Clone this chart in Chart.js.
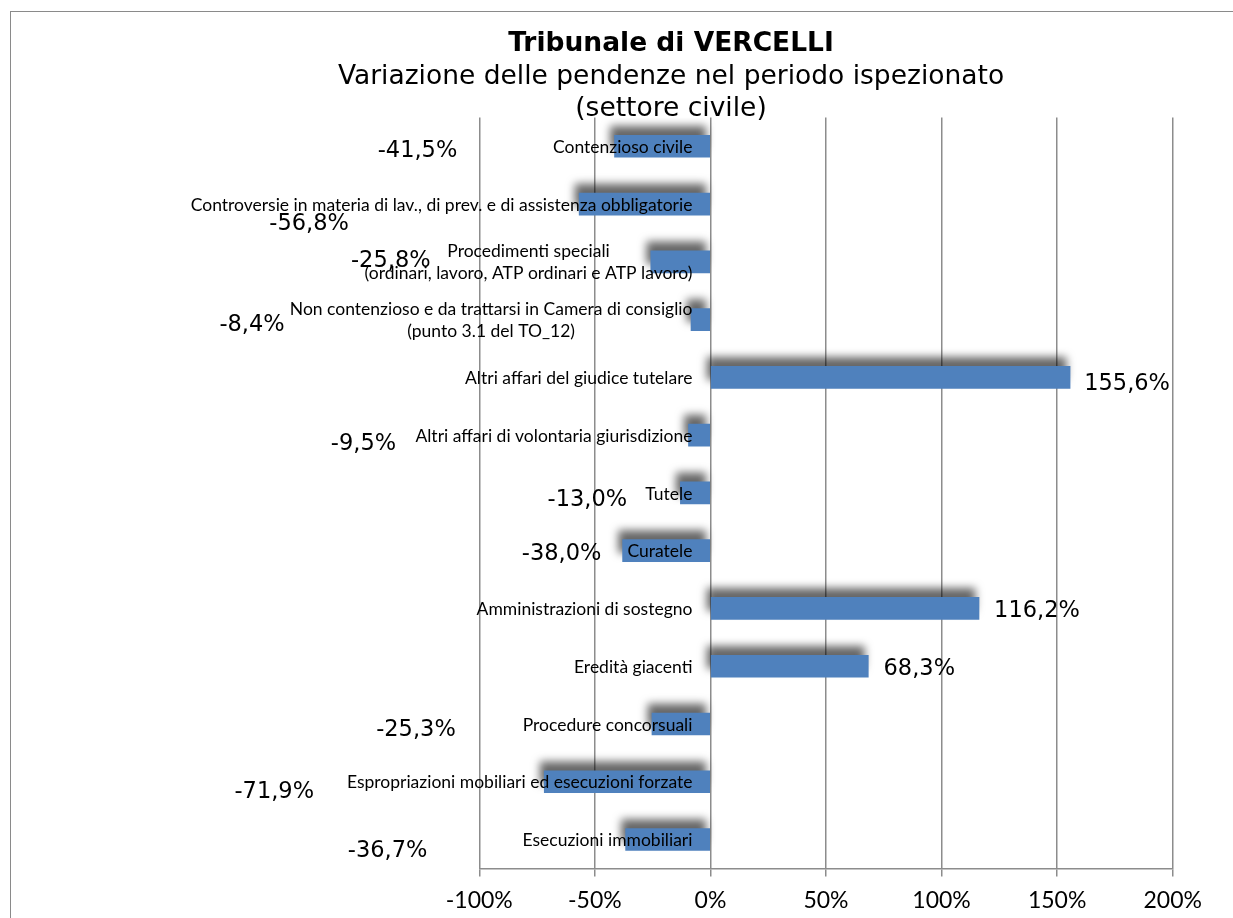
<!DOCTYPE html>
<html><head><meta charset="utf-8">
<script src="https://cdn.jsdelivr.net/npm/chart.js@4.4.1/dist/chart.umd.min.js"></script>
<style>
html,body{margin:0;padding:0;background:#fff;overflow:hidden;width:1233px;height:918px}
#frame{position:absolute;left:10px;top:11px;width:1322px;height:1000px;border:1px solid #8a8a8a;box-sizing:border-box}
#wrap{position:absolute;left:0;top:0;width:1342px;height:918px}
</style></head><body>
<div id="frame"></div>
<div id="wrap"><canvas id="c" width="1342" height="918"></canvas></div>
<script>
const categories = [
  'Contenzioso civile',
  'Controversie in materia di lav., di prev. e di assistenza obbligatorie',
  ['Procedimenti speciali', '(ordinari, lavoro, ATP ordinari e ATP lavoro)'],
  ['Non contenzioso e da trattarsi in Camera di consiglio', '(punto 3.1 del TO_12)'],
  'Altri affari del giudice tutelare',
  'Altri affari di volontaria giurisdizione',
  'Tutele',
  'Curatele',
  'Amministrazioni di sostegno',
  'Eredità giacenti',
  'Procedure concorsuali',
  'Espropriazioni mobiliari ed esecuzioni forzate',
  'Esecuzioni immobiliari'
];
const variazione = [-41.5, -56.8, -25.8, -8.4, 155.6, -9.5, -13.0, -38.0, 116.2, 68.3, -25.3, -71.9, -36.7];
const xTicks = [-100, -50, 0, 50, 100, 150, 200];
const titleText = 'Tribunale di VERCELLI';
const subtitleText = ['Variazione delle pendenze nel periodo ispezionato', '(settore civile)'];

// layout only: pixel nudge of each value label centre from its bar end
const labelNudge = [[-197,4],[-270,19],[-260,-2],[-439,5],[57,6],[-325,8],[-93,6],[-61,2],[58,2],[51,2],[-236,5],[-270,9],[-238,11]];

const fmt = v => v.toFixed(1).replace('.', ',') + '%';

const shadowPlugin = {
  id: 'barShadow',
  beforeDatasetsDraw(chart) {
    const c = chart.ctx;
    c.save();
    c.shadowColor = 'rgba(0,0,0,0.6)';
    c.shadowBlur = 9;
    c.shadowOffsetX = -4;
    c.shadowOffsetY = -9;
  },
  afterDatasetsDraw(chart) { chart.ctx.restore(); }
};

const labelPlugin = {
  id: 'labels',
  afterDatasetsDraw(chart) {
    const {ctx, scales: {x, y}} = chart;
    ctx.save();
    ctx.fillStyle = '#000';
    ctx.textBaseline = 'middle';
    ctx.textAlign = 'center';
    ctx.font = '17.5px Lato';
    const rightEdge = x.getPixelForValue(0) - 18;
    categories.forEach((c, i) => {
      const lines = Array.isArray(c) ? c : [c];
      const cy = y.getPixelForValue(i) + 1;
      const maxW = Math.max(...lines.map(l => ctx.measureText(l).width));
      const cx = rightEdge - maxW / 2;
      const lh = 22;
      lines.forEach((l, k) => ctx.fillText(l, cx, cy + (k - (lines.length - 1) / 2) * lh));
    });
    ctx.font = '22.5px "DejaVu Sans"';
    const meta = chart.getDatasetMeta(0);
    meta.data.forEach((bar, i) => {
      const [dx, dy] = labelNudge[i];
      ctx.fillText(fmt(variazione[i]), bar.x + dx, bar.y + dy + 1);
    });
    ctx.restore();
  }
};

new Chart(document.getElementById('c'), {
  type: 'bar',
  data: {
    labels: categories,
    datasets: [{
      data: variazione,
      backgroundColor: '#4F81BD',
      borderWidth: 0,
      barThickness: 22
    }]
  },
  options: {
    indexAxis: 'y',
    responsive: false,
    animation: false,
    layout: {padding: {left: 169.3, right: 169.3, top: 0, bottom: -6}},
    plugins: {
      legend: {display: false},
      tooltip: {enabled: false},
      title: {
        display: true, text: titleText, color: '#000',
        font: {family: '"DejaVu Sans"', size: 26.5, weight: 'bold', lineHeight: 1.2},
        padding: {top: 28, bottom: 0}
      },
      subtitle: {
        display: true, text: subtitleText, color: '#000',
        font: {family: '"DejaVu Sans"', size: 26.5, weight: 'normal', lineHeight: 1.2},
        padding: {top: 1.5, bottom: -7.5}
      }
    },
    scales: {
      x: {
        type: 'linear', min: -100, max: 200,
        afterBuildTicks: s => { s.ticks = xTicks.map(v => ({value: v})); },
        grid: {color: '#8c8c8c', lineWidth: 1.5, drawTicks: true, tickLength: 8, tickColor: '#8c8c8c'},
        border: {display: true, color: '#8c8c8c', width: 1.5},
        ticks: {callback: v => v + '%', color: '#000', font: {family: 'Lato', size: 23}, padding: 10, maxRotation: 0, autoSkip: false}
      },
      y: {
        display: true,
        afterFit: s => { s.width = 310; },
        ticks: {display: false},
        grid: {display: false, drawTicks: false},
        border: {display: false}
      }
    }
  },
  plugins: [shadowPlugin, labelPlugin]
});
</script>
</body></html>
